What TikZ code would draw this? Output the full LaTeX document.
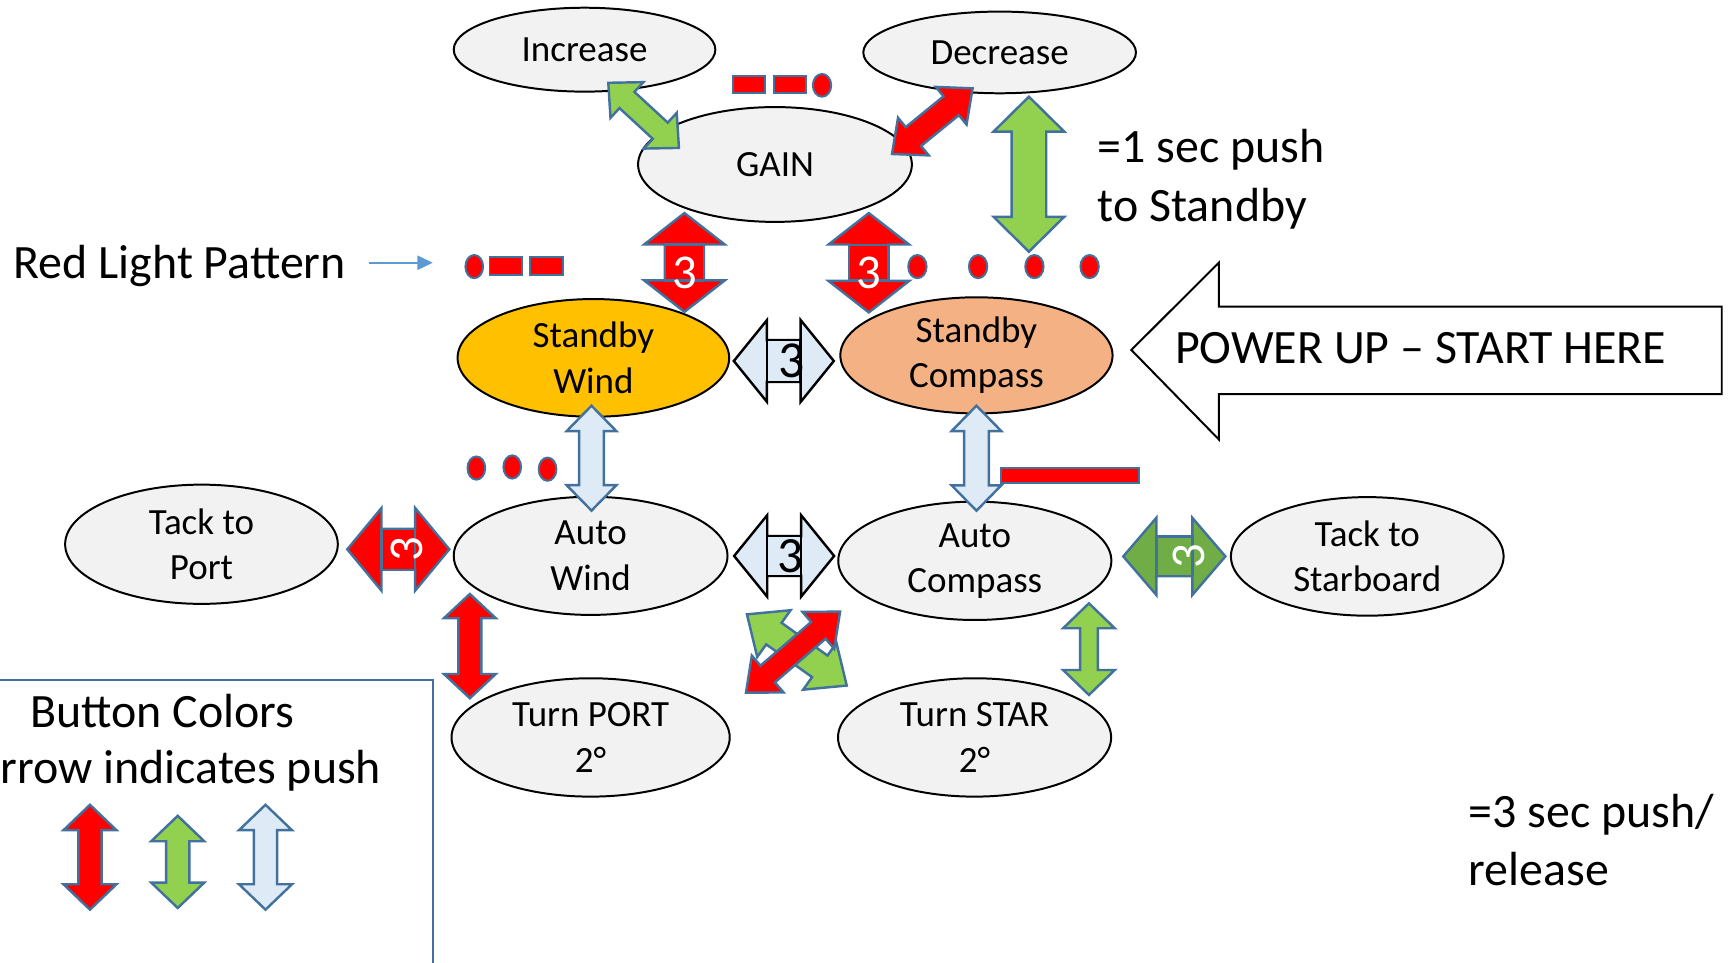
\documentclass[tikz,border=0pt]{standalone}
\usepackage{fontspec}
\setmainfont{Carlito}
\usetikzlibrary{calc,arrows.meta,shapes.geometric}
\definecolor{ellfill}{HTML}{F2F2F2}
\definecolor{gold}{HTML}{FFC000}
\definecolor{peach}{HTML}{F4B183}
\definecolor{bred}{HTML}{FF0000}
\definecolor{lgreen}{HTML}{92D050}
\definecolor{dgreen}{HTML}{70AD47}
\definecolor{lblue}{HTML}{DEEBF7}
\definecolor{edgecol}{HTML}{41719C}
\definecolor{lightarr}{HTML}{5B9BD5}
% double block arrow from #2 to #3; #4 head half width, #5 shaft half width, #6 head length (px)
\newcommand{\BArr}[6]{%
 \pgfmathsetmacro{\bH}{#4*0.5}%
 \pgfmathsetmacro{\bS}{#5*0.5}%
 \pgfmathsetmacro{\bL}{#6*0.5}%
 \path[#1] (#2)
  -- ($(#2)!\bL pt!(#3)!\bH pt!90:(#3)$)
  -- ($(#2)!\bL pt!(#3)!\bS pt!90:(#3)$)
  -- ($(#3)!\bL pt!(#2)!\bS pt!-90:(#2)$)
  -- ($(#3)!\bL pt!(#2)!\bH pt!-90:(#2)$)
  -- (#3)
  -- ($(#3)!\bL pt!(#2)!\bH pt!90:(#2)$)
  -- ($(#3)!\bL pt!(#2)!\bS pt!90:(#2)$)
  -- ($(#2)!\bL pt!(#3)!\bS pt!-90:(#3)$)
  -- ($(#2)!\bL pt!(#3)!\bH pt!-90:(#3)$)
  -- cycle;}
% digit lowered inside its box (keeps the node box unchanged)
\newcommand{\lowthree}[1]{\raisebox{-#1}[\height][0pt]{3}}
\newcommand{\rightthree}[1]{\makebox[0pt][c]{\hspace*{#1}3}}
\tikzset{
 ell/.style={ellipse, draw=black, line width=0.9pt, fill=ellfill, inner sep=0pt,
   align=center, font=\fontsize{16.75}{20.5}\selectfont},
 barrow/.style={line width=1.1pt, line join=miter, draw=edgecol},
 redarr/.style={barrow, fill=bred},
 lgarr/.style={barrow, fill=lgreen},
 dgarr/.style={barrow, fill=dgreen},
 lbarr/.style={barrow, fill=lblue},
 lbkarr/.style={barrow, fill=lblue, draw=black},
 shaft/.style={rectangle, inner sep=0pt, line width=1.1pt, font=\fontsize{22}{22}\selectfont},
 lamp/.style={fill=bred, draw=edgecol, line width=0.9pt},
 bigtxt/.style={inner sep=0pt, align=left, font=\fontsize{21.7}{26.5}\selectfont},
}
\begin{document}
\begin{tikzpicture}[x=0.5pt, y=-0.5pt]
\useasboundingbox (0,0) rectangle (1568,872);
\clip (0,0) rectangle (1568,872);

% ---------------- ellipses ----------------
\node[ell, minimum width=118.5pt, minimum height=38pt] (inc) at (529.5,45) {Increase};
\node[ell, minimum width=123.5pt, minimum height=37pt] (dec) at (905.5,47.5) {Decrease};
\node[ell, minimum width=124pt, minimum height=52pt] (gain) at (702,149) {GAIN};
\node[ell, fill=gold, minimum width=123pt, minimum height=53.3pt] (sbw) at (537.5,324.2) {Standby\\Wind};
\node[ell, fill=peach, minimum width=123.3pt, minimum height=52.6pt] (sbc) at (884.5,321.9) {Standby\\Compass};
\node[ell, minimum width=124pt, minimum height=53.5pt] (aw) at (535,503.5) {Auto\\Wind};
\node[ell, minimum width=123.7pt, minimum height=53.6pt] (ac) at (883,508) {Auto\\Compass};
\node[ell, minimum width=123.5pt, minimum height=54pt] (tp) at (182.5,493) {Tack to\\Port};
\node[ell, minimum width=123.5pt, minimum height=53.7pt] (ts) at (1238.5,504) {Tack to\\Starboard};
\node[ell, minimum width=126pt, minimum height=53.6pt] (tport) at (535,668) {Turn PORT\\2°};
\node[ell, minimum width=123.7pt, minimum height=53.6pt] (tstar) at (882.8,668) {Turn STAR\\2°};

% ---------------- arrow end points ----------------
\coordinate (c1a) at (551,75);     \coordinate (c1b) at (615,134);
\coordinate (c2a) at (808,139.5);  \coordinate (c2b) at (881,80);
\coordinate (c3a) at (932,87.6);   \coordinate (c3b) at (932,228);
\coordinate (c4a) at (620,193);    \coordinate (c4b) at (620,282.5);
\coordinate (c5a) at (787,193);    \coordinate (c5b) at (787,283);
\coordinate (c6a) at (664.7,327);  \coordinate (c6b) at (755.3,327);
\coordinate (c7a) at (535.8,367.5);\coordinate (c7b) at (535.8,462.5);
\coordinate (c8a) at (884.5,367.5);\coordinate (c8b) at (884.5,462.6);
\coordinate (c9a) at (314.6,497.6);\coordinate (c9b) at (407,497.6);
\coordinate (c10a) at (665,503.6); \coordinate (c10b) at (755.6,503.6);
\coordinate (c11a) at (1017.5,504);\coordinate (c11b) at (1110,504);
\coordinate (c12a) at (425.6,538); \coordinate (c12b) at (425.6,632.5);
\coordinate (c13a) at (986.4,546.5);\coordinate (c13b) at (986.4,629.5);
\coordinate (c14a) at (676.6,556.5);\coordinate (c14b) at (767,621);
\coordinate (c15a) at (675.7,627.5);\coordinate (c15b) at (761,554);
\coordinate (c16a) at (81.5,729);  \coordinate (c16b) at (81.5,824);
\coordinate (c17a) at (161,739);   \coordinate (c17b) at (161,822.5);
\coordinate (c18a) at (240.5,729); \coordinate (c18b) at (240.5,824);

% ---------------- block arrows ----------------
\BArr{lgarr}{c1a}{c1b}{22}{10}{23}
\BArr{redarr}{c2a}{c2b}{22}{11}{25}
\BArr{lgarr}{c3a}{c3b}{32}{15.7}{31.6}
\BArr{redarr}{c4a}{c4b}{36.5}{17.7}{28.5}
\node[shaft, fill=bred, draw=edgecol, text=white, minimum width=17.7pt, minimum height=16.25pt] (s4) at ($(c4a)!0.5!(c4b)$) {\lowthree{4.5pt}};
\BArr{redarr}{c5a}{c5b}{36.5}{17.7}{28.5}
\node[shaft, fill=bred, draw=edgecol, text=white, minimum width=17.7pt, minimum height=16.25pt] (s5) at ($(c5a)!0.5!(c5b)$) {\lowthree{4.5pt}};
\BArr{lbkarr}{c6a}{c6b}{37}{19}{30}
\node[shaft, fill=lblue, draw=black, font=\fontsize{23.5}{23.5}\selectfont, minimum width=15.3pt, minimum height=19pt] (s6) at ($(c6a)!0.5!(c6b)$) {\rightthree{7pt}};
\BArr{lbarr}{c7a}{c7b}{22.5}{11.2}{23}
\BArr{lbarr}{c8a}{c8b}{22.5}{11.2}{23}
\BArr{redarr}{c9a}{c9b}{37.5}{18.5}{31}
\node[shaft, fill=bred, draw=edgecol, text=white, rotate=90, minimum width=18.5pt, minimum height=15.2pt] (s9) at ($(c9a)!0.5!(c9b)$) {\lowthree{4pt}};
\BArr{lbkarr}{c10a}{c10b}{37}{18}{30}
\node[shaft, fill=lblue, draw=black, font=\fontsize{23}{23}\selectfont, minimum width=15.3pt, minimum height=18pt] (s10) at ($(c10a)!0.5!(c10b)$) {\rightthree{6pt}};
\BArr{dgarr}{c11a}{c11b}{35}{18}{30}
\node[shaft, fill=dgreen, draw=edgecol, text=white, rotate=90, minimum width=18pt, minimum height=16.25pt] (s11) at ($(c11a)!0.5!(c11b)$) {\lowthree{6.5pt}};
\BArr{redarr}{c12a}{c12b}{23.5}{10.4}{22}
\BArr{lgarr}{c13a}{c13b}{23.4}{8}{22.6}
\BArr{lgarr}{c14a}{c14b}{26}{12}{30}
\BArr{redarr}{c15a}{c15b}{22}{10}{26}

% ---------------- red light patterns ----------------
\path[lamp] (664,69) rectangle (693,84.5);
\path[lamp] (701,69) rectangle (730.5,84.5);
\path[lamp] (744.6,77.3) ellipse [x radius=4.15pt, y radius=5.15pt];
\path[lamp] (429.6,241.5) ellipse [x radius=4pt, y radius=5.25pt];
\path[lamp] (443.4,232.5) rectangle (472.5,249);
\path[lamp] (480.4,232.5) rectangle (509.6,249);
\foreach \lx in {831,886,937,987}{\path[lamp] (\lx,241.5) ellipse [x radius=4.15pt, y radius=5.25pt];}
\foreach \lx/\ly in {431.5/424,464/423,496/425}{\path[lamp] (\lx,\ly) ellipse [x radius=4pt, y radius=5.25pt];}
\path[lamp] (907,424) rectangle (1032,437.3);

% ---------------- texts ----------------
\node[bigtxt, anchor=base west] (rlp) at (12,252) {Red Light Pattern};
\coordinate (rla) at (334,238); \coordinate (rlb) at (392,238);
\draw[lightarr, line width=0.8pt, -{Triangle[length=7pt,width=6.5pt]}] (rla) -- (rlb);
\node[bigtxt, anchor=west] (onesec) at (994,162.4) {=1 sec push\\to Standby};
\node[bigtxt, anchor=west] (threesec) at (1330,761) {=3 sec push/\\release};

% POWER UP arrow
\draw[line width=0.9pt, fill=white, line join=miter] (1024.8,317) -- (1104,238) -- (1104,277.8) -- (1559.6,277.8) -- (1559.6,357) -- (1104,357) -- (1104,398) -- cycle;
\node[bigtxt, anchor=base] (power) at (1287,329) {POWER UP – START HERE};

% ---------------- legend ----------------
\draw[edgecol, line width=0.9pt] (-20,616) rectangle (392,900);
\node[bigtxt, anchor=west, font=\fontsize{21.7}{25.5}\selectfont] (legtxt) at (-25,673) {\hspace*{26pt}Button Colors\\Arrow indicates push};
\BArr{redarr}{c16a}{c16b}{24}{10.5}{23}
\BArr{lgarr}{c17a}{c17b}{24}{10.5}{23}
\BArr{lbarr}{c18a}{c18b}{24}{10.5}{23}
\end{tikzpicture}
\end{document}
